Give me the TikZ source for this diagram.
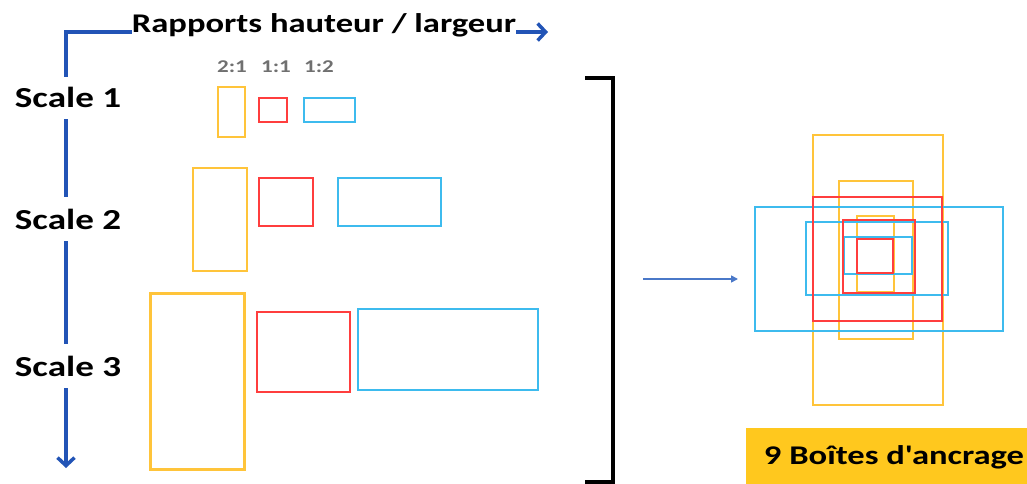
\documentclass[tikz,border=0pt]{standalone}
\usepackage{fontspec}
\usepackage{graphicx}
\setmainfont{Carlito}[Ligatures=TeXOff]
\usetikzlibrary{arrows.meta}
\definecolor{ybox}{HTML}{FFC43A}
\definecolor{rbox}{HTML}{FF3E3E}
\definecolor{bbox}{HTML}{3DBBEE}
\definecolor{axisblue}{HTML}{2254B6}
\definecolor{arrblue}{HTML}{4A78C8}
\definecolor{lblfill}{HTML}{FFC81E}
\definecolor{ratiogray}{HTML}{707070}
\newcommand{\widetxt}[1]{\scalebox{1.28}[1]{#1}}
\tikzset{
  anc/.style={draw, line width=2.8pt, inner sep=0pt},
  yb/.style={anc, draw=ybox},
  rb/.style={anc, draw=rbox},
  bb/.style={anc, draw=bbox},
  scalelbl/.style={fill=white, inner xsep=2pt, inner ysep=0pt, minimum height=44pt,
    font=\bfseries\fontsize{29}{31}\selectfont},
  ratiolbl/.style={inner sep=0pt, text=ratiogray, font=\bfseries\fontsize{18}{20}\selectfont},
  axisline/.style={draw=axisblue, line width=3.5pt},
  axisarrow/.style={axisline, -{Straight Barb[length=8pt,width=17pt]}}
}
\newcommand{\ab}[5]{\node[#1, minimum width=#4pt, minimum height=#5pt] at (#2,#3)}
\begin{document}
\begin{tikzpicture}[x=1pt,y=-1pt]
\useasboundingbox (0,0) rectangle (1027,484);
% axes
\coordinate (corner) at (66,32);
\coordinate (xend) at (548,32);
\coordinate (yend) at (66,468);
\draw[axisarrow] (corner) -- (xend);
\node[fill=white, inner xsep=0pt, inner ysep=1pt, font=\bfseries\fontsize{27}{30}\selectfont] (title) at (324,25) {\widetxt{Rapports hauteur / largeur}};
\node[scalelbl] (s1) at (68,97) {\widetxt{Scale 1}};
\node[scalelbl] (s2) at (68,219) {\widetxt{Scale 2}};
\node[scalelbl] (s3) at (68,366) {\widetxt{Scale 3}};
\draw[axisline, line cap=rect] (corner) -- (s1.north -| corner);
\draw[axisline] (s1.south -| corner) -- (s2.north -| corner);
\draw[axisline] (s2.south -| corner) -- (s3.north -| corner);
\draw[axisarrow] (s3.south -| corner) -- (yend);
% ratio labels
\node[ratiolbl] (r21) at (232,67) {\widetxt{2:1}};
\node[ratiolbl] (r11) at (276,67) {\widetxt{1:1}};
\node[ratiolbl] (r12) at (319,67) {\widetxt{1:2}};
% scale 1
\ab{yb}{231.5}{112}{27}{50} (y1) {};
\ab{rb}{273}{110}{28}{24} (q1) {};
\ab{bb}{329.5}{110}{51}{24} (b1) {};
% scale 2
\ab{yb}{220}{219.5}{54}{103} (y2) {};
\ab{rb}{286}{202}{54}{48} (q2) {};
\ab{bb}{389.5}{202}{103}{48} (b2) {};
% scale 3
\ab{yb}{197.5}{381.5}{94}{176} (y3) {};
\ab{rb}{303.5}{352}{93}{80} (q3) {};
\ab{bb}{448}{349.5}{180}{81} (b3) {};
% bracket
\coordinate (bt0) at (585,78);
\coordinate (bt1) at (613,78);
\coordinate (bb1) at (613,482);
\coordinate (bb0) at (585,482);
\draw[line width=4.5pt, line join=miter] (bt0) -- (bt1) -- (bb1) -- (bb0);
% arrow
\coordinate (a0) at (643,279);
\coordinate (a1) at (738,279);
\draw[draw=arrblue, line width=1.6pt, -{Triangle[length=7pt,width=7pt]}] (a0) -- (a1);
% composite
\ab{yb}{878}{270}{130}{270} (yl) {};
\ab{yb}{876}{260}{74}{158} (ym) {};
\ab{yb}{875.5}{254}{37}{76} (ys) {};
\ab{bb}{879}{269}{248}{124} (bl) {};
\ab{bb}{877}{258.5}{142}{73} (bm) {};
\ab{bb}{878}{255.5}{68}{37} (bs) {};
\ab{rb}{877.5}{259}{129}{124} (rl) {};
\ab{rb}{879}{256.5}{72}{73} (rm) {};
\ab{rb}{875}{256}{36}{34} (rs) {};
% label
\node[fill=lblfill, inner sep=0pt, minimum width=281pt, minimum height=56pt] (lblbox) at (886.5,456) {};
\node[inner sep=0pt, font=\bfseries\fontsize{27}{30}\selectfont] (lbl) at (894,457) {\widetxt{9 Boîtes d'ancrage}};
\end{tikzpicture}
\end{document}
